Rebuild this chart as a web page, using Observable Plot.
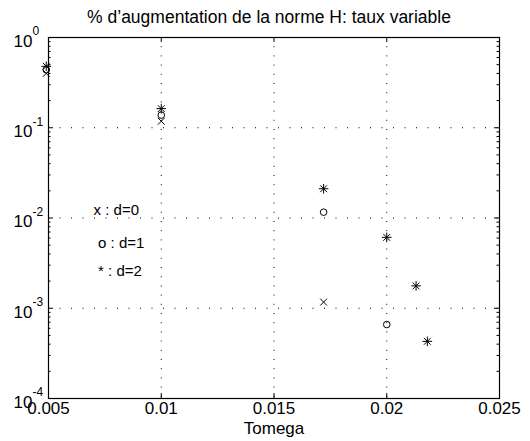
<!DOCTYPE html>
<html>
<head>
<meta charset="utf-8">
<script src="https://cdn.jsdelivr.net/npm/d3@7"></script>
<script src="https://cdn.jsdelivr.net/npm/@observablehq/plot@0.6"></script>
<style>
  html, body { margin: 0; padding: 0; background: white; }
</style>
</head>
<body>
<div id="chart"></div>
<script>
// ---- data ----
const titleText = "% d’augmentation de la norme H: taux variable";
const xLabelText = "Tomega";

const xTickValues = [0.005, 0.01, 0.015, 0.02, 0.025];
const xTickLabels = ["0.005", "0.01", "0.015", "0.02", "0.025"];
const yTickValues = [1e-4, 1e-3, 1e-2, 1e-1, 1];
const yTickExponents = ["-4", "-3", "-2", "-1", "0"];
const xGridValues = [0.01, 0.015, 0.02];
const yGridValues = [1e-3, 1e-2, 1e-1];

// d = 0  (x markers)
const d0Tomega = [0.0049, 0.01, 0.0172];
const d0Values = [0.40, 0.118, 0.00117];
// d = 1  (o markers)
const d1Tomega = [0.0049, 0.01, 0.0172, 0.02];
const d1Values = [0.44, 0.138, 0.0116, 0.00066];
// d = 2  (* markers)
const d2Tomega = [0.0049, 0.01, 0.0172, 0.02, 0.0213, 0.0218];
const d2Values = [0.48, 0.163, 0.0211, 0.0061, 0.00177, 0.00043];

// in-plot annotations
const noteTexts = ["x : d=0", "o : d=1", "* : d=2"];
const noteX = [0.0070, 0.0072, 0.0072];
const noteY = [0.0121, 0.0052, 0.0026];

// ---- layout ----
const W = 530, H = 441;
const mL = 48, mR = 31, mT = 37, mB = 43;
const pw = W - mL - mR, ph = H - mT - mB;
const font = "'Liberation Sans', Arial, Helvetica, sans-serif";

const pts = (xs, ys) => xs.map((x, i) => ({x, y: ys[i]}));
const d0 = pts(d0Tomega, d0Values);
const d1 = pts(d1Tomega, d1Values);
const d2 = pts(d2Tomega, d2Values);
const notes = noteTexts.map((t, i) => ({t, x: noteX[i], y: noteY[i]}));
const xTicks = xTickValues.map((v, i) => ({v, label: xTickLabels[i]}));
const yTicks = yTickValues.map((v, i) => ({v, e: yTickExponents[i]}));

// minor log ticks (2..9 x 10^k)
const yMinor = [];
for (let k = -4; k <= -1; k++) for (let m = 2; m <= 9; m++) yMinor.push(m * Math.pow(10, k));

const chart = Plot.plot({
  width: W, height: H,
  marginLeft: mL, marginRight: mR, marginTop: mT, marginBottom: mB,
  style: {fontFamily: font, background: "white", color: "black", overflow: "visible"},
  x: {domain: [0.005, 0.025], axis: null},
  y: {type: "log", domain: [1e-4, 1], axis: null},
  marks: [
    // dotted grid
    Plot.ruleX(xGridValues, {stroke: "black", strokeWidth: 1, strokeDasharray: "1,8.2"}),
    Plot.ruleY(yGridValues, {stroke: "black", strokeWidth: 1, strokeDasharray: "1,10.5"}),
    // inward ticks
    Plot.ruleX(xTickValues, {stroke: "black", insetTop: ph - 5}),
    Plot.ruleX(xTickValues, {stroke: "black", insetBottom: ph - 5}),
    Plot.ruleY(yTickValues, {stroke: "black", insetRight: pw - 5}),
    Plot.ruleY(yTickValues, {stroke: "black", insetLeft: pw - 5}),
    Plot.ruleY(yMinor, {stroke: "black", insetRight: pw - 2.5}),
    Plot.ruleY(yMinor, {stroke: "black", insetLeft: pw - 2.5}),
    Plot.frame({stroke: "black", strokeWidth: 1.2}),
    // series
    Plot.dot(d0, {x: "x", y: "y", symbol: "times", r: 3.2, stroke: "black", strokeWidth: 1}),
    Plot.dot(d1, {x: "x", y: "y", symbol: "circle", r: 3.3, stroke: "black", fill: "none", strokeWidth: 1}),
    Plot.dot(d2, {x: "x", y: "y", symbol: "times", r: 3.2, stroke: "black", strokeWidth: 1}),
    Plot.dot(d2, {x: "x", y: "y", symbol: "plus", r: 3.2, stroke: "black", strokeWidth: 1}),
    // annotations
    Plot.text(notes, {x: "x", y: "y", text: "t", textAnchor: "start", fontSize: 15, fill: "black"}),
    // x tick labels
    Plot.text(xTicks, {x: "v", frameAnchor: "bottom", text: "label", dy: 15, fontSize: 17, fill: "black"}),
    // y tick labels: base "10" and exponent
    Plot.text(yTicks, {y: "v", frameAnchor: "left", text: () => "10", textAnchor: "end",
      dx: -16, dy: 4, fontSize: 17, fill: "black"}),
    Plot.text(yTicks, {y: "v", frameAnchor: "left", text: "e", textAnchor: "start",
      dx: -16, dy: -6, fontSize: 12, fill: "black"}),
    // title and axis label
    Plot.text([titleText], {frameAnchor: "top", dy: -27, dx: -5, fontSize: 17.5, fill: "black"}),
    Plot.text([xLabelText], {frameAnchor: "bottom", dy: 35, fontSize: 17, fill: "black"})
  ]
});
document.getElementById("chart").appendChild(chart);
</script>
</body>
</html>
